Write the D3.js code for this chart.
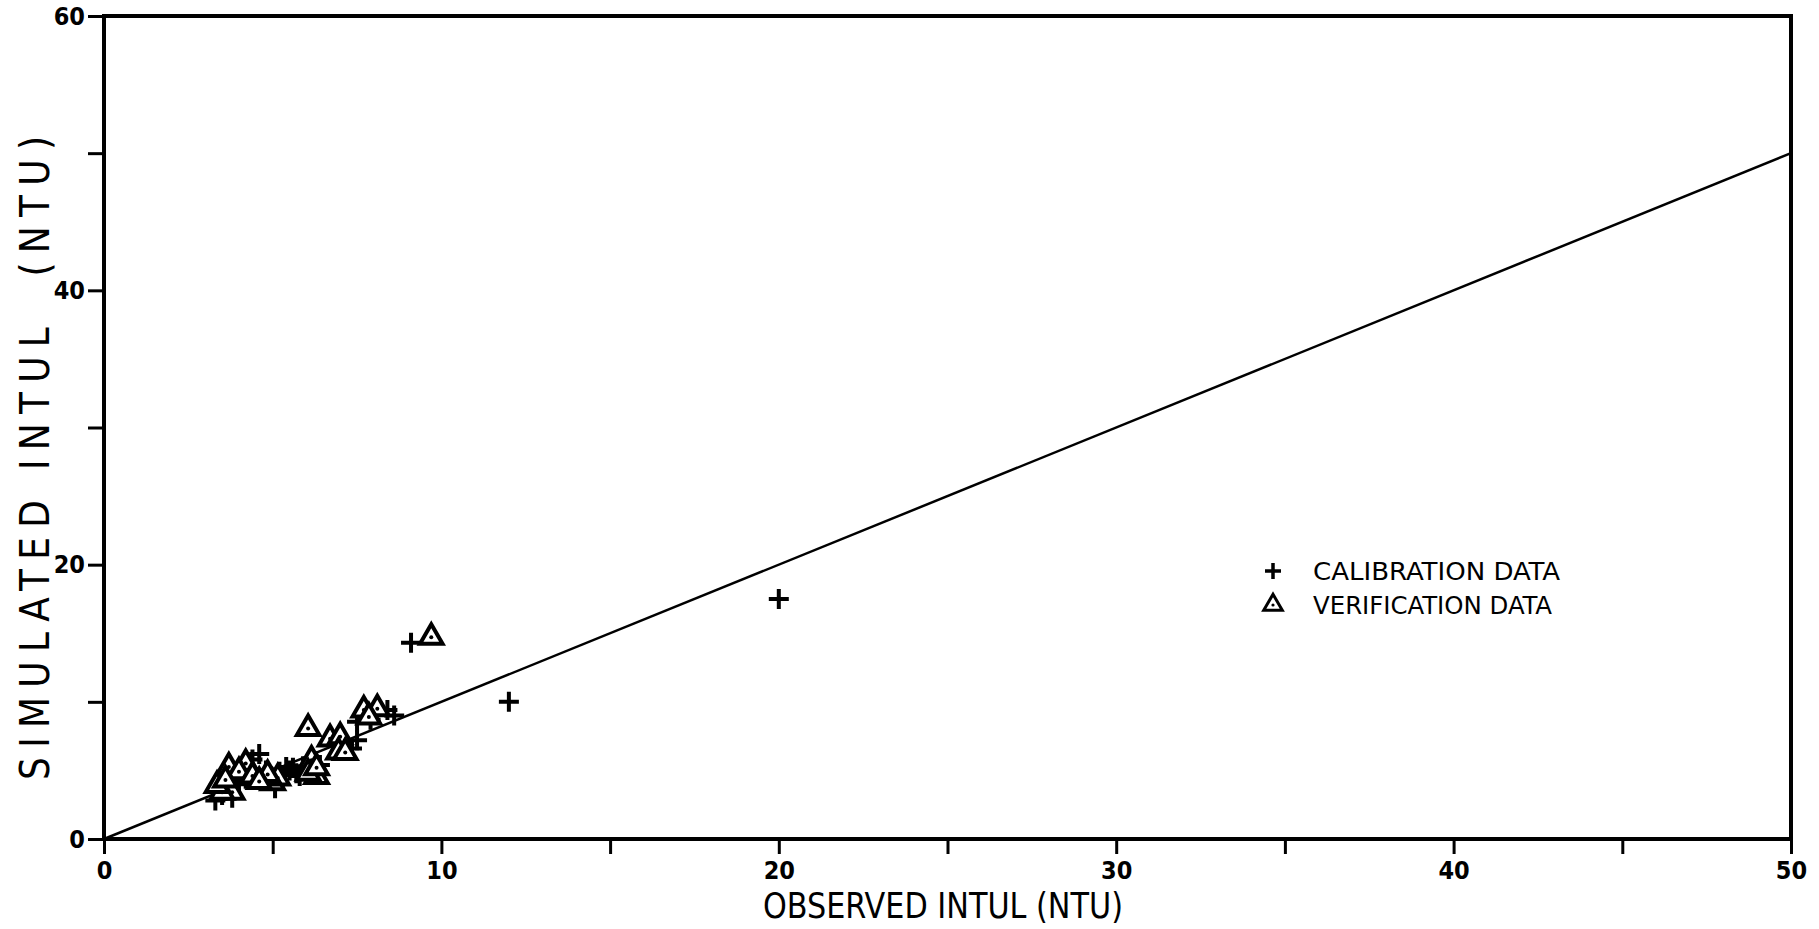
<!DOCTYPE html>
<html>
<head>
<meta charset="utf-8">
<script src="https://cdn.jsdelivr.net/npm/d3@7"></script>
<style>
  html, body {margin: 0; padding: 0; background: #fff;}
  svg {display: block;}
  text {font-family: "DejaVu Sans Condensed", "DejaVu Sans", sans-serif; fill: #000;}
</style>
</head>
<body>
<svg id="chart" width="1819" height="929"></svg>
<script>
// values (observed, simulated), NTU
const calibration = [
    [20, 17.5], [12, 10], [9.1, 14.3],
    [8.6, 9.0], [8.4, 9.4], [7.5, 8.55], [7.9, 8.7],
    [7.5, 7.2], [7.35, 6.6], [7.1, 6.9],
    [5.4, 5.25], [5.7, 4.8], [5.5, 5.0], [5.9, 5.3], [5.2, 4.9], [5.6, 5.2], [5.8, 4.6], [6.4, 5.4],
    [4.6, 6.2], [4.4, 5.8], [4.8, 5.0], [5.07, 3.7], [4.5, 4.5], [4.2, 4.4], [4.7, 4.3],
    [3.3, 2.8], [3.5, 3.2], [3.4, 3.9], [3.7, 4.2], [3.9, 4.6], [3.6, 3.5], [4.0, 4.0], [4.3, 4.7], [3.8, 3.0]
]

const verification = [
    [9.7, 14.7], [6.05, 8.05],
    [7.7, 9.4], [8.1, 9.5], [7.85, 8.9],
    [6.7, 7.3], [7.0, 7.45], [6.95, 6.35], [7.15, 6.3],
    [6.15, 5.75], [6.3, 4.55], [6.05, 4.8], [6.3, 5.2],
    [5.0, 4.1], [5.15, 4.45], [4.85, 4.7],
    [3.7, 5.25], [4.2, 5.5], [4.0, 4.9], [4.4, 4.6],
    [3.8, 3.4], [3.5, 3.4], [3.35, 3.9], [3.6, 4.3], [4.6, 4.2]
]

const perfectFit = [[0, 0], [50, 50]]

const xTicks = [0, 5, 10, 15, 20, 25, 30, 35, 40, 45, 50]
const xTickLabels = ['0', '', '10', '', '20', '', '30', '', '40', '', '50']
const yTicks = [0, 10, 20, 30, 40, 50, 60]
const yTickLabels = ['0', '', '20', '', '40', '', '60']

const legendItems = ['CALIBRATION DATA', 'VERIFICATION DATA']


const m = {left: 104, right: 28, top: 16, bottom: 90}
const W = 1819, H = 929

const x = d3.scaleLinear().domain([0, 50]).range([m.left, W - m.right])
const y = d3.scaleLinear().domain([0, 60]).range([H - m.bottom, m.top])

const svg = d3.select('#chart')

const plus = r => `M${-r},0H${r}M0,${-r}V${r}`
const triangle = d3.symbol().type(d3.symbolTriangle).size(220)


const drawAxes = () => {
    const xAxis = d3.axisBottom(x)
        .tickValues(xTicks)
        .tickSize(15)
        .tickPadding(7)
        .tickFormat((d, i) => xTickLabels[i])

    const yAxis = d3.axisLeft(y)
        .tickValues(yTicks)
        .tickSize(16)
        .tickPadding(3)
        .tickFormat((d, i) => yTickLabels[i])

    const gx = svg.append('g')
        .attr('transform', `translate(0,${y(0)})`)
        .call(xAxis)
    const gy = svg.append('g')
        .attr('transform', `translate(${x(0)},0)`)
        .call(yAxis)

    ;[gx, gy].forEach(g => {
        g.select('.domain').remove()
        g.selectAll('line').attr('stroke', '#000').attr('stroke-width', 3)
        g.selectAll('text')
            .style('font-size', '25px')
            .style('font-weight', 'bold')
            .attr('fill', '#000')
    })

    // closed frame
    svg.append('rect')
        .attr('x', x(0))
        .attr('y', y(60))
        .attr('width', x(50) - x(0))
        .attr('height', y(0) - y(60))
        .attr('fill', 'none')
        .attr('stroke', '#000')
        .attr('stroke-width', 4)
}


const drawTitles = () => {
    svg.append('text')
        .attr('x', 943)
        .attr('y', 918)
        .attr('text-anchor', 'middle')
        .attr('textLength', 360)
        .attr('lengthAdjust', 'spacingAndGlyphs')
        .style('font-size', '36px')
        .text('OBSERVED INTUL (NTU)')

    svg.append('text')
        .attr('transform', 'translate(49,458) rotate(-90)')
        .attr('text-anchor', 'middle')
        .attr('textLength', 644)
        .attr('lengthAdjust', 'spacing')
        .style('white-space', 'pre')
        .style('font-size', '40px')
        .text('SIMULATED INTUL  (NTU)')
}


const drawData = () => {
    svg.append('path')
        .datum(perfectFit)
        .attr('d', d3.line().x(d => x(d[0])).y(d => y(d[1])))
        .attr('fill', 'none')
        .attr('stroke', '#000')
        .attr('stroke-width', 2.5)

    svg.append('g')
        .selectAll('path')
        .data(calibration)
        .join('path')
        .attr('transform', d => `translate(${x(d[0])},${y(d[1])})`)
        .attr('d', plus(10))
        .attr('stroke', '#000')
        .attr('stroke-width', 4)

    const tri = svg.append('g')
        .selectAll('g')
        .data(verification)
        .join('g')
        .attr('transform', d => `translate(${x(d[0])},${y(d[1])})`)

    tri.append('path')
        .attr('d', triangle)
        .attr('fill', '#fff')
        .attr('stroke', '#000')
        .attr('stroke-width', 4)

    tri.append('circle')
        .attr('r', 2)
        .attr('fill', '#000')
}


const drawLegend = () => {
    const lg = svg.append('g')
        .selectAll('g')
        .data(legendItems)
        .join('g')
        .attr('transform', (d, i) => `translate(1273,${571 + i * 34})`)

    lg.filter((d, i) => i === 0)
        .append('path')
        .attr('d', plus(8))
        .attr('stroke', '#000')
        .attr('stroke-width', 3.5)

    const lt = lg.filter((d, i) => i === 1)
    lt.append('path')
        .attr('d', d3.symbol().type(d3.symbolTriangle).size(150))
        .attr('fill', '#fff')
        .attr('stroke', '#000')
        .attr('stroke-width', 3)
    lt.append('circle')
        .attr('r', 1.6)

    lg.append('text')
        .attr('x', 40)
        .attr('dy', '0.35em')
        .attr('textLength', (d, i) => i === 0 ? 247 : 239)
        .attr('lengthAdjust', 'spacingAndGlyphs')
        .style('font-size', '25px')
        .text(d => d)
}


drawData()
drawAxes()
drawTitles()
drawLegend()
</script>
</body>
</html>
